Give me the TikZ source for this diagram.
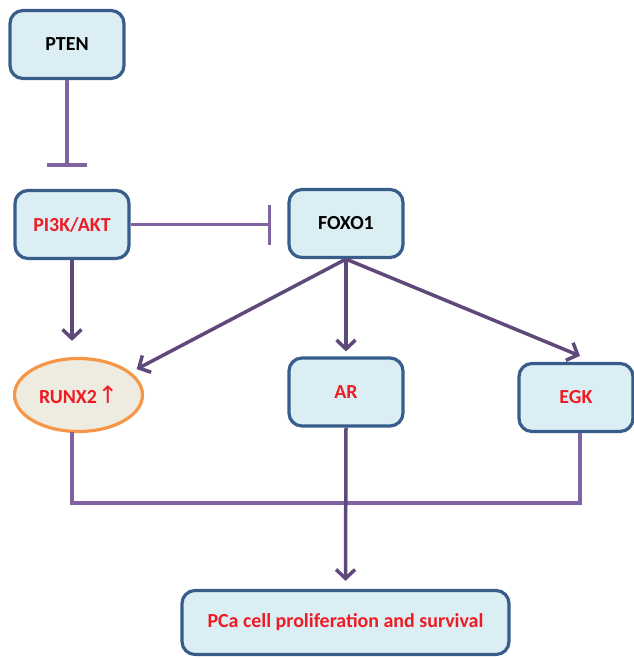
\documentclass[tikz,border=0pt]{standalone}
\usepackage{fontspec}
\setmainfont{Carlito}
\newfontfamily\symfont{DejaVu Sans}
\usetikzlibrary{arrows.meta,shapes.geometric,calc}
\definecolor{boxfill}{RGB}{219,238,244}
\definecolor{boxdraw}{RGB}{56,93,138}
\definecolor{ellfill}{RGB}{238,236,225}
\definecolor{elldraw}{RGB}{247,150,70}
\definecolor{txtred}{RGB}{237,28,36}
\definecolor{inhcol}{RGB}{128,100,162}
\definecolor{arrcol}{RGB}{95,73,122}
\begin{document}
\begin{tikzpicture}[x=1bp,y=-1bp,
  box/.style={draw=boxdraw,fill=boxfill,line width=3.2bp,rounded corners=13bp,
    minimum width=114bp,minimum height=68bp,inner sep=0pt,
    font=\fontsize{20}{24}\selectfont\bfseries},
  redtxt/.style={text=txtred},
  inh/.style={draw=inhcol,line width=3.5bp,-{Bar[width=40bp,line width=3.5bp]}},
  act/.style={draw=arrcol,line width=3.5bp,-{Straight Barb[length=9bp,width=19bp,line width=3.5bp]}},
  plain/.style={draw=inhcol,line width=3.5bp}]
\useasboundingbox (0,0) rectangle (634,658);
\node[box] (pten) at (67,44.5) {PTEN};
\node[box,redtxt] (pik) at (72,224.5) {PI3K/AKT};
\node[box] (foxo) at (346,223.5) {FOXO1};
\node[draw=elldraw,fill=ellfill,line width=3.2bp,ellipse,minimum width=128bp,minimum height=73bp,inner sep=0pt,
  font=\fontsize{20}{24}\selectfont\bfseries,text=txtred] (runx) at (78.5,395) {RUNX2\kern1bp{\symfont\fontsize{24}{24}\selectfont\mdseries ↑}};
\node[box,redtxt] (ar) at (346,392) {AR};
\node[box,redtxt] (egk) at (576,397.5) {EGK};
\node[box,redtxt,minimum width=327bp,minimum height=64bp] (pca) at (345.5,622.5) {PCa cell proliferation and survival};
\coordinate (j) at (72,503);
\coordinate (rb) at (72,432);
\draw[inh,shorten >=22bp] (pten) -- (pten |- pik.north);
\draw[inh,shorten >=16bp] (pik.east) -- (pik.east -| foxo.west);
\draw[act] (pik.south) -- ($(pik.south |- runx.north)+(0,-16)$);
\draw[act] (foxo.south) -- ($(runx.25)+(7,-2)$);
\draw[act] (foxo.south) -- ($(ar.north)+(0,-5)$);
\draw[act] (foxo.south) -- ($(egk.north)+(4,-6)$);
\draw[plain] (rb) -- (j) -| ($(egk.south)+(4,0)$);
\draw[act] (ar.south) -- ($(pca.north)+(0,-8)$);
\end{tikzpicture}
\end{document}
